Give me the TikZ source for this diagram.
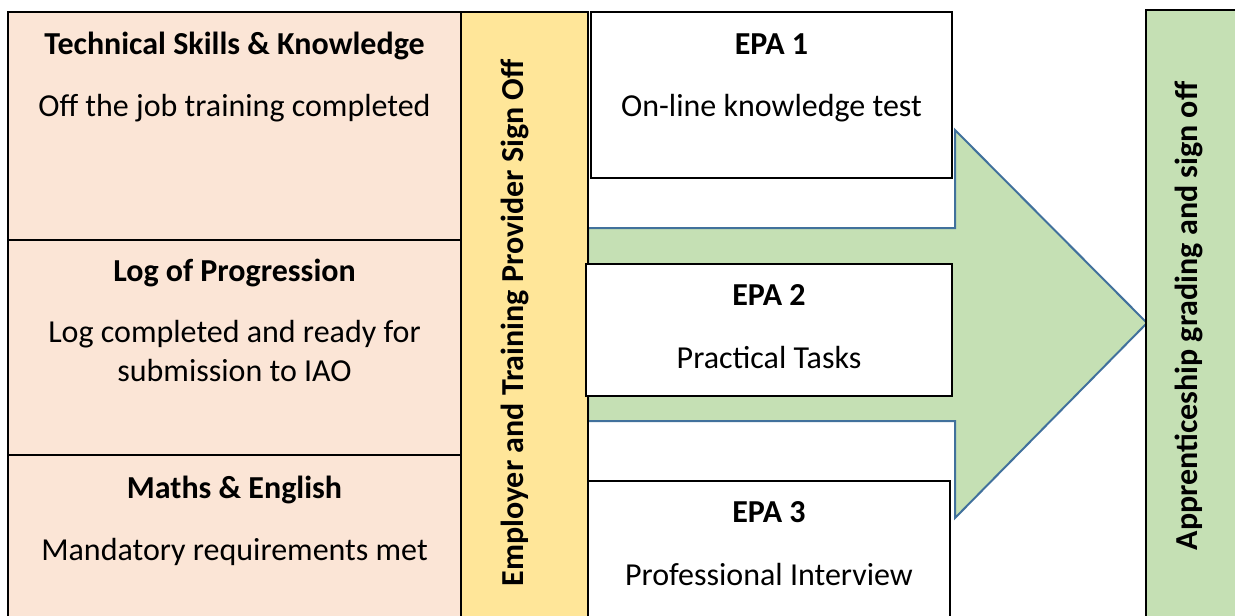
\documentclass[tikz,border=0pt]{standalone}
\usepackage{fontspec}
\setmainfont{Carlito}
\definecolor{peach}{HTML}{FBE5D6}
\definecolor{signyellow}{HTML}{FFE699}
\definecolor{gradegreen}{HTML}{C5E0B4}
\definecolor{arrowblue}{HTML}{41719C}
\begin{document}
\begin{tikzpicture}[x=1pt,y=-1pt,
		box/.style={draw=black, line width=1.5pt, anchor=north west, inner sep=0pt, outer sep=0pt},
		head/.style={font=\fontsize{32}{38}\selectfont\bfseries, anchor=base, inner sep=0pt},
		body/.style={font=\fontsize{32}{38}\selectfont, anchor=base, inner sep=0pt},
		upright/.style={font=\fontsize{32}{38}\selectfont\bfseries, rotate=90, inner sep=0pt}]
		\useasboundingbox (0,0) rectangle (1235,616);
		\clip (0,0) rectangle (1235,616);
		\fill[white] (0,0) rectangle (1235,616);
		\draw[draw=arrowblue, fill=gradegreen, line width=2pt] (588,228)--(955,228)--(955,130)--(1147,323)--(955,518)--(955,421)--(588,421)--cycle;
		\node[box, fill=peach, minimum width=453, minimum height=228] (tech) at (8,12) {};
		\node[box, fill=peach, minimum width=453, minimum height=215] (log) at (8,240) {};
		\node[box, fill=peach, minimum width=453, minimum height=175] (maths) at (8,455) {};
		\node[box, fill=signyellow, minimum width=127, minimum height=620] (signoff) at (461,12) {};
		\node[box, fill=white, minimum width=361, minimum height=166] (epa1) at (591,12) {};
		\node[box, fill=white, minimum width=366, minimum height=132] (epa2) at (586,264) {};
		\node[box, fill=white, minimum width=362, minimum height=150] (epa3) at (588,481) {};
		\node[box, fill=gradegreen, minimum width=100, minimum height=620] (grading) at (1146,10) {};
		\node[head] (techtitle) at (tech.north |- 0,54) {Technical Skills \& Knowledge};
		\node[body] (techtext) at (tech.north |- 0,116) {Off the job training completed};
		\node[head] (logtitle) at (log.north |- 0,281) {Log of Progression};
		\node[body] (logtext) at (log.north |- 0,342) {Log completed and ready for};
		\node[body] (logtextb) at (log.north |- 0,381) {submission to IAO};
		\node[head] (mathstitle) at (maths.north |- 0,498) {Maths \& English};
		\node[body] (mathstext) at (maths.north |- 0,560) {Mandatory requirements met};
		\node[upright] (signofftext) at (515,323) {Employer and Training Provider Sign Off};
		\node[head] (epa1title) at (epa1.north |- 0,54) {EPA 1};
		\node[body] (epa1text) at (epa1.north |- 0,116) {On-line knowledge test};
		\node[head] (epa2title) at (epa2.north |- 0,305) {EPA 2};
		\node[body] (epa2text) at (epa2.north |- 0,368) {Practical Tasks};
		\node[head] (epa3title) at (epa3.north |- 0,522) {EPA 3};
		\node[body] (epa3text) at (epa3.north |- 0,585) {Professional Interview};
		\node[upright] (gradingtext) at (1189,316) {Apprenticeship grading and sign off};
	\end{tikzpicture}
\end{document}
